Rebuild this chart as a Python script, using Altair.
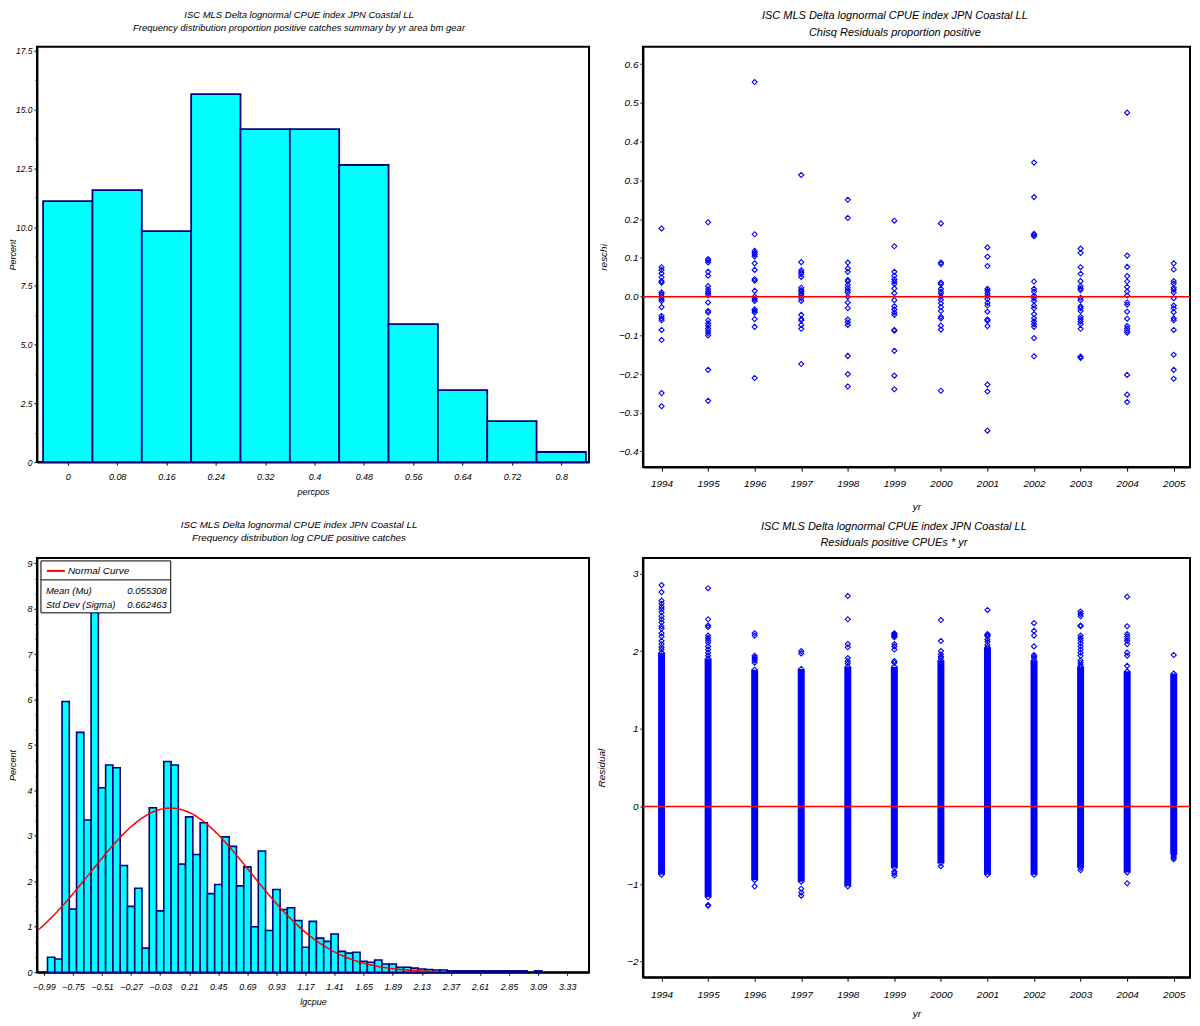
import json
import altair as alt
import pandas as pd

FONT = "Liberation Sans, Arial, Helvetica, sans-serif"
CYAN, NAVY, BLUE, RED = "#00ffff", "#000080", "#0000ff", "#ff0000"
TITLE_TOP = "ISC MLS Delta lognormal CPUE index JPN Coastal LL"

# ---------------- top-left: proportion positive histogram ----------------
PERCPOS_MID = [0.00, 0.08, 0.16, 0.24, 0.32, 0.40, 0.48, 0.56, 0.64, 0.72, 0.80]
PERCPOS_PCT = [11.10, 11.57, 9.83, 15.66, 14.17, 14.17, 12.64, 5.87, 3.06, 1.74, 0.43]
PERCPOS_TICKS = [0.00, 0.08, 0.16, 0.24, 0.32, 0.40, 0.48, 0.56, 0.64, 0.72, 0.80]
PERCPOS_HALF = 0.04
TL_YMAJOR = [0, 2.5, 5, 7.5, 10, 12.5, 15, 17.5]

# ---------------- top-right: chi-square residuals ----------------
YEARS = [1994, 1995, 1996, 1997, 1998, 1999, 2000, 2001, 2002, 2003, 2004, 2005]
RESCHI = {
    1994: [0.176, 0.076, 0.069, 0.060, 0.050, 0.040, 0.036, 0.011, 0.006, 0.000, -0.006, -0.011,
           -0.027, -0.050, -0.056, -0.061, -0.086, -0.112, -0.249, -0.283],
    1995: [0.192, 0.097, 0.093, 0.088, 0.064, 0.054, 0.027, 0.019, 0.013, 0.009, 0.004, -0.015,
           -0.037, -0.041, -0.061, -0.069, -0.075, -0.082, -0.088, -0.094, -0.100, -0.189, -0.269],
    1996: [0.554, 0.161, 0.118, 0.113, 0.109, 0.104, 0.086, 0.069, 0.045, 0.041, 0.015, 0.000,
           -0.006, -0.011, -0.033, -0.037, -0.041, -0.058, -0.078, -0.210],
    1997: [0.314, 0.089, 0.068, 0.063, 0.058, 0.051, 0.023, 0.017, 0.013, 0.008, 0.004, -0.004,
           -0.011, -0.047, -0.058, -0.061, -0.073, -0.083, -0.174],
    1998: [0.250, 0.203, 0.088, 0.073, 0.064, 0.043, 0.039, 0.030, 0.023, 0.017, 0.011, 0.000,
           -0.015, -0.030, -0.059, -0.066, -0.073, -0.153, -0.200, -0.232],
    1999: [0.196, 0.130, 0.064, 0.054, 0.045, 0.039, 0.033, 0.021, 0.009, -0.009, -0.025, -0.033,
           -0.041, -0.047, -0.086, -0.088, -0.140, -0.204, -0.239],
    2000: [0.189, 0.088, 0.084, 0.036, 0.032, 0.020, 0.013, 0.008, 0.000, -0.008, -0.017, -0.027,
           -0.037, -0.052, -0.056, -0.075, -0.085, -0.243],
    2001: [0.127, 0.103, 0.079, 0.020, 0.015, 0.008, 0.002, -0.006, -0.016, -0.023, -0.039, -0.059,
           -0.062, -0.076, -0.227, -0.245, -0.346],
    2002: [0.346, 0.257, 0.162, 0.159, 0.156, 0.039, 0.020, 0.013, 0.002, -0.004, -0.011, -0.023,
           -0.030, -0.045, -0.056, -0.064, -0.071, -0.078, -0.107, -0.154],
    2003: [0.124, 0.113, 0.076, 0.059, 0.040, 0.027, 0.021, 0.017, -0.003, -0.009, -0.025, -0.030,
           -0.037, -0.052, -0.058, -0.064, -0.071, -0.083, -0.155, -0.158],
    2004: [0.475, 0.106, 0.077, 0.053, 0.039, 0.025, 0.013, 0.003, -0.015, -0.021, -0.039, -0.057,
           -0.076, -0.082, -0.088, -0.093, -0.202, -0.253, -0.272],
    2005: [0.086, 0.070, 0.040, 0.034, 0.023, 0.018, 0.011, -0.004, -0.023, -0.030, -0.040, -0.056,
           -0.061, -0.086, -0.150, -0.189, -0.212],
}
RESCHI_YTICKS = [-0.4, -0.3, -0.2, -0.1, 0.0, 0.1, 0.2, 0.3, 0.4, 0.5, 0.6]

# ---------------- bottom-left: log CPUE histogram ----------------
LGCPUE_MID = [-0.99, -0.93, -0.87, -0.81, -0.75, -0.69, -0.63, -0.57, -0.51, -0.45,
              -0.39, -0.33, -0.27, -0.21, -0.15, -0.09, -0.03, 0.03, 0.09, 0.15,
              0.21, 0.27, 0.33, 0.39, 0.45, 0.51, 0.57, 0.63, 0.69, 0.75,
              0.81, 0.87, 0.93, 0.99, 1.05, 1.11, 1.17, 1.23, 1.29, 1.35,
              1.41, 1.47, 1.53, 1.59, 1.65, 1.71, 1.77, 1.83, 1.89, 1.95,
              2.01, 2.07, 2.13, 2.19, 2.25, 2.31, 2.37, 2.43, 2.49, 2.55,
              2.61, 2.67, 2.73, 2.79, 2.85, 2.91, 2.97, 3.03, 3.09]
LGCPUE_PCT = [0.00, 0.33, 0.29, 5.96, 1.39, 5.28, 3.35, 8.33, 4.06, 4.56,
              4.50, 2.35, 1.45, 1.85, 0.53, 3.62, 1.35, 4.64, 4.56, 2.38,
              3.42, 2.59, 3.29, 1.73, 1.93, 2.98, 2.77, 1.90, 2.32, 1.00,
              2.67, 0.92, 1.82, 1.38, 1.42, 1.14, 0.55, 1.12, 0.75, 0.68,
              0.84, 0.46, 0.42, 0.44, 0.24, 0.22, 0.27, 0.18, 0.18, 0.11,
              0.11, 0.09, 0.07, 0.06, 0.05, 0.05, 0.03, 0.03, 0.03, 0.03,
              0.03, 0.03, 0.03, 0.03, 0.03, 0.03, 0.03, 0.00, 0.03]
LGCPUE_TICKS = [-0.99, -0.75, -0.51, -0.27, -0.03, 0.21, 0.45, 0.69, 0.93, 1.17,
                1.41, 1.65, 1.89, 2.13, 2.37, 2.61, 2.85, 3.09, 3.33]
LGCPUE_HALF = 0.03
MU, SIGMA, BINW = 0.055308, 0.662463, 0.06
BL_YMAJOR = [0, 1, 2, 3, 4, 5, 6, 7, 8, 9]

# ---------------- bottom-right: residuals of positive CPUE ----------------
RESID_LO = [-0.88, -1.17, -0.95, -0.97, -1.03, -0.79, -0.73, -0.88, -0.88, -0.79, -0.85, -0.62]
RESID_HI = [1.98, 1.90, 1.76, 1.77, 1.80, 1.80, 1.88, 2.05, 1.88, 1.80, 1.74, 1.71]
RESID_OUT = {
    1994: [2.85, 2.76, 2.65, 2.61, 2.57, 2.54, 2.50, 2.45, 2.41, 2.37, 2.32, 2.29, 2.23, 2.19,
           2.13, 2.09, 2.05, 2.02],
    1995: [2.81, 2.41, 2.33, 2.31, 2.20, 2.17, 2.14, 2.11, 2.06, 2.02, 1.98, 1.94, -1.27, -1.28],
    1996: [2.23, 2.20, 1.94, 1.92, 1.90, 1.88, 1.85, -1.03],
    1997: [2.00, 1.97, -1.06, -1.11, -1.15],
    1998: [2.71, 2.41, 2.09, 2.05, 1.91, 1.87, 1.84],
    1999: [2.23, 2.22, 2.21, 2.20, 2.19, 2.18, 2.09, 2.06, 2.02, 1.87, 1.85, -0.84, -0.86, -0.89],
    2000: [2.40, 2.13, 2.00, 1.96, 1.93, 1.91, -0.77],
    2001: [2.53, 2.22, 2.21, 2.20, 2.19, 2.15, 2.12, 2.08],
    2002: [2.36, 2.26, 2.20, 2.06, 1.95, 1.93, 1.91],
    2003: [2.51, 2.48, 2.45, 2.33, 2.32, 2.20, 2.17, 2.14, 2.10, 2.06, 2.02, 1.98, 1.94, 1.88,
           1.85, 1.82, -0.82],
    2004: [2.70, 2.32, 2.22, 2.19, 2.16, 2.13, 2.09, 1.98, 1.94, 1.81, -0.99],
    2005: [1.95, -0.64, -0.66, -0.68],
}
RESID_YMAJOR = [-2, -1, 0, 1, 2, 3]


def num_axis(values, major, fmt, title, label_size, tick_major=3, tick_minor=2,
             label_pad=2, title_x=None, title_y=None, title_size=10):
    test = f"indexof({json.dumps(major)}, datum.value) >= 0"
    kw = dict(values=values, labelExpr=f"{test} ? {fmt} : ''",
              tickSize={"condition": {"test": test, "value": tick_major}, "value": tick_minor},
              title=title, labelFontSize=label_size, labelPadding=label_pad,
              titleFontSize=title_size, titleBaseline="middle")
    if title_x is not None:
        kw["titleX"] = title_x
    if title_y is not None:
        kw["titleY"] = title_y
    return alt.Axis(**kw)


def panel_title(lines, size, line_height, offset):
    return alt.TitleParams(text=lines, fontSize=size, lineHeight=line_height, offset=offset,
                           baseline="bottom", font=FONT, fontStyle="italic",
                           fontWeight="normal", anchor="middle", frame="bounds",
                           color="black")


YEAR_DOMAIN = [1993.6, 2005.35]

# ---------------- TL ----------------
tl_x = num_axis(PERCPOS_TICKS, PERCPOS_TICKS, "format(datum.value, '.2~f')", "percpos", 9,
                tick_major=3, label_pad=7, title_y=29, title_size=9)
tl_y_vals = [i * 1.25 for i in range(15)]
tl_y = num_axis(tl_y_vals, TL_YMAJOR, "datum.value == 0 ? '0' : format(datum.value, '.1f')",
                "Percent", 8.5, tick_major=3, tick_minor=2, label_pad=2, title_x=-24, title_size=9)
tl = (
    alt.Chart(pd.DataFrame({"mid": PERCPOS_MID, "pct": PERCPOS_PCT}))
    .transform_calculate(lo=f"datum.mid - {PERCPOS_HALF}", hi=f"datum.mid + {PERCPOS_HALF}")
    .mark_rect(fill=CYAN, stroke=NAVY, strokeWidth=1.8)
    .encode(
        x=alt.X("lo:Q", scale=alt.Scale(domain=[-0.05, 0.845], nice=False, zero=False), axis=tl_x),
        x2="hi:Q",
        y=alt.Y("pct:Q", scale=alt.Scale(domain=[0, 17.67], nice=False), axis=tl_y),
    )
    .properties(width=553, height=416,
                title=panel_title([TITLE_TOP, "Frequency distribution proportion positive catches summary by yr area bm gear"],
                                  9.5, 13, 4))
)

# ---------------- TR ----------------
tr_rows = [{"yr": y, "reschi": v} for y in YEARS for v in RESCHI[y]]
tr_x = num_axis(YEARS, YEARS, "format(datum.value, 'd')", "yr", 10, tick_major=4,
                label_pad=7, title_y=39)
tr_y = num_axis(RESCHI_YTICKS, RESCHI_YTICKS, "format(datum.value, '.1f')", "reschi", 10,
                tick_major=3, label_pad=2, title_x=-39)
tr_xs = alt.Scale(domain=YEAR_DOMAIN, nice=False, zero=False)
tr_ys = alt.Scale(domain=[-0.44, 0.645], nice=False, zero=False)
tr_pts = alt.Chart(pd.DataFrame(tr_rows)).mark_point(
    shape="diamond", filled=False, color=BLUE, size=26, strokeWidth=1.1, opacity=1
).encode(
    x=alt.X("yr:Q", scale=tr_xs, axis=tr_x),
    y=alt.Y("reschi:Q", scale=tr_ys, axis=tr_y),
)
tr_zero = alt.Chart(pd.DataFrame({"z": [0.0]})).mark_rule(color=RED, strokeWidth=1.5).encode(
    y=alt.Y("z:Q", scale=tr_ys, axis=tr_y)
)
tr = alt.layer(tr_pts, tr_zero).properties(
    width=548, height=421,
    title=panel_title([TITLE_TOP, "Chisq Residuals proportion positive"], 11, 17, -2),
)

# ---------------- BL ----------------
bl_df = pd.DataFrame({"mid": LGCPUE_MID, "pct": LGCPUE_PCT})
bl_df = bl_df[bl_df["pct"] > 0]
bl_xs = alt.Scale(domain=[-1.047, 3.51], nice=False, zero=False)
bl_ys = alt.Scale(domain=[0, 9.12], nice=False)
bl_x = num_axis(LGCPUE_TICKS, LGCPUE_TICKS, "format(datum.value, '.2f')", "lgcpue", 9,
                tick_major=3, label_pad=7, title_y=29, title_size=9)
bl_y = num_axis([k / 3 for k in range(28)], BL_YMAJOR, "format(datum.value, 'd')", "Percent", 9,
                tick_major=3, tick_minor=2, label_pad=2, title_x=-24, title_size=9)
bl_bars = (
    alt.Chart(bl_df)
    .transform_calculate(lo=f"datum.mid - {LGCPUE_HALF}", hi=f"datum.mid + {LGCPUE_HALF}")
    .mark_rect(fill=CYAN, stroke=NAVY, strokeWidth=1.6)
    .encode(
        x=alt.X("lo:Q", scale=bl_xs, axis=bl_x),
        x2="hi:Q",
        y=alt.Y("pct:Q", scale=bl_ys, axis=bl_y),
    )
)
bl_curve = (
    alt.Chart(alt.sequence(-1.03, 2.26, 0.01, as_="lo"))
    .transform_calculate(
        pct=f"100*{BINW}*exp(-0.5*pow((datum.lo-{MU})/{SIGMA},2))/({SIGMA}*sqrt(2*PI))")
    .mark_line(color=RED, strokeWidth=1.5)
    .encode(x=alt.X("lo:Q", scale=bl_xs, axis=bl_x), y=alt.Y("pct:Q", scale=bl_ys, axis=bl_y))
)
one = pd.DataFrame({"k": [0]})
leg_box = alt.Chart(one).mark_rect(fill="white", stroke="black", strokeWidth=1).encode(
    x=alt.value(4), x2=alt.value(134), y=alt.value(3), y2=alt.value(55))
leg_div = alt.Chart(one).mark_rule(color="black", strokeWidth=1).encode(
    x=alt.value(4), x2=alt.value(134), y=alt.value(22))
leg_red = alt.Chart(one).mark_rule(color=RED, strokeWidth=2).encode(
    x=alt.value(10), x2=alt.value(28), y=alt.value(13))
txt = dict(font=FONT, fontStyle="italic", baseline="middle", color="black")
leg_t1 = alt.Chart(one).mark_text(align="left", fontSize=10, **txt).encode(
    x=alt.value(31), y=alt.value(13), text=alt.value("Normal Curve"))
leg_t2 = alt.Chart(one).mark_text(align="left", fontSize=9.5, **txt).encode(
    x=alt.value(9), y=alt.value(33), text=alt.value("Mean (Mu)"))
leg_t3 = alt.Chart(one).mark_text(align="right", fontSize=9.5, **txt).encode(
    x=alt.value(130), y=alt.value(33), text=alt.value(f"{MU:.6f}"))
leg_t4 = alt.Chart(one).mark_text(align="left", fontSize=9.5, **txt).encode(
    x=alt.value(9), y=alt.value(47), text=alt.value("Std Dev (Sigma)"))
leg_t5 = alt.Chart(one).mark_text(align="right", fontSize=9.5, **txt).encode(
    x=alt.value(130), y=alt.value(47), text=alt.value(f"{SIGMA:.6f}"))
bl = alt.layer(bl_bars, bl_curve, leg_box, leg_div, leg_red, leg_t1, leg_t2, leg_t3, leg_t4,
               leg_t5).properties(
    width=553, height=415,
    title=panel_title([TITLE_TOP, "Frequency distribution log CPUE positive catches"], 9.8, 13, 5),
)

# ---------------- BR ----------------
br_cols = pd.DataFrame({"yr": YEARS, "lo": RESID_LO, "hi": RESID_HI})
br_rows = [{"yr": y, "res": v} for y in YEARS for v in RESID_OUT[y]]
br_rows += [{"yr": y, "res": v} for y, v in zip(YEARS, RESID_LO)]
br_rows += [{"yr": y, "res": v} for y, v in zip(YEARS, RESID_HI)]
br_xs = alt.Scale(domain=YEAR_DOMAIN, nice=False, zero=False)
br_ys = alt.Scale(domain=[-2.2, 3.2], nice=False, zero=False)
br_x = num_axis(YEARS, YEARS, "format(datum.value, 'd')", "yr", 10, tick_major=4,
                label_pad=8, title_y=36)
br_y = num_axis(RESID_YMAJOR, RESID_YMAJOR, "format(datum.value, 'd')", "Residual", 10,
                tick_major=3, label_pad=2, title_x=-41)
br_band = alt.Chart(br_cols).mark_rule(color=BLUE, strokeWidth=7).encode(
    x=alt.X("yr:Q", scale=br_xs, axis=br_x),
    y=alt.Y("lo:Q", scale=br_ys, axis=br_y),
    y2="hi:Q",
)
br_pts = alt.Chart(pd.DataFrame(br_rows)).mark_point(
    shape="diamond", filled=False, color=BLUE, size=26, strokeWidth=1.1, opacity=1
).encode(
    x=alt.X("yr:Q", scale=br_xs, axis=br_x),
    y=alt.Y("res:Q", scale=br_ys, axis=br_y),
)
br_zero = alt.Chart(pd.DataFrame({"z": [0.0]})).mark_rule(color=RED, strokeWidth=1.5).encode(
    y=alt.Y("z:Q", scale=br_ys, axis=br_y)
)
br = alt.layer(br_band, br_pts, br_zero).properties(
    width=548, height=420,
    title=panel_title([TITLE_TOP, "Residuals positive CPUEs * yr"], 11, 16, -1),
)

chart = (
    alt.concat(tl, tr, bl, br, columns=2, spacing={"row": 91, "column": 54}, bounds="flush")
    .properties(padding=0)
    .configure_view(stroke="black", strokeWidth=2)
    .configure_axis(
        domain=True, domainColor="black", domainWidth=2, grid=False, zindex=1,
        tickColor="black", tickWidth=1,
        labelFont=FONT, labelFontStyle="italic", labelColor="black",
        labelOverlap=False, labelFlush=False,
        titleFont=FONT, titleFontStyle="italic", titleFontWeight="normal", titleColor="black",
    )
)

chart.save("out.html", embed_options={"renderer": "svg", "actions": False})
